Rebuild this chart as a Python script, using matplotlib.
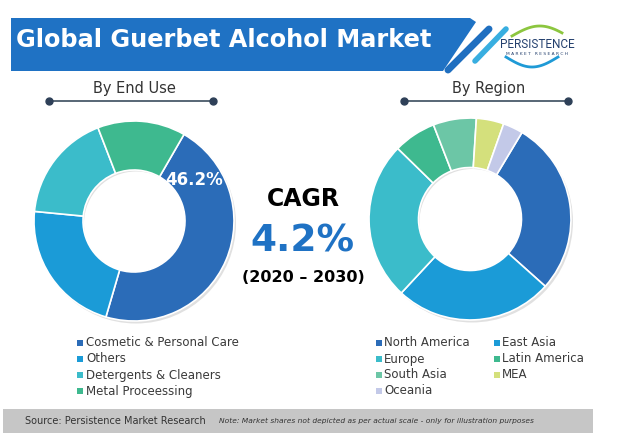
import numpy as np
import matplotlib
matplotlib.use('Agg')
import matplotlib.pyplot as plt
from matplotlib.patches import Polygon, Rectangle, Circle

# data
end_use_labels = ['Cosmetic & Personal Care', 'Others', 'Detergents & Cleaners', 'Metal Proceessing']
end_use_share = [46.2, 22.0, 17.6, 14.2]
end_use_colors = ['#2b6cb8', '#1b9bd7', '#3bbcca', '#3eb98f']

region_labels = ['North America', 'East Asia', 'Europe', 'Latin America', 'South Asia', 'MEA', 'Oceania']
region_share = [28.0, 25.3, 25.4, 6.8, 6.9, 4.4, 3.2]
region_colors = ['#2b6cb8', '#1b9bd7', '#3bbcca', '#3eb98f', '#6cc6a6', '#d4e07c', '#c3c9e8']

W, H = 620, 437
fig = plt.figure(figsize=(W / 100, H / 100), dpi=100)
fig.patch.set_facecolor('white')

# background axes in pixel coords (y down)
bg = fig.add_axes([0, 0, 1, 1])
bg.set_xlim(0, W)
bg.set_ylim(H, 0)
bg.axis('off')

# title banner
blue = '#1f72c4'
bg.add_patch(Polygon([(11, 18), (470, 18), (476, 22), (443, 71), (11, 71)],
                     closed=True, facecolor=blue, edgecolor='none'))
bg.plot([448, 489], [70, 29], color='#1f6fc0', lw=5, solid_capstyle='round')
bg.plot([475, 506], [61, 29], color='#38aee0', lw=4, solid_capstyle='round')
bg.text(16, 40, 'Global Guerbet Alcohol Market', color='white', fontsize=17.3,
        fontweight='bold', va='center', ha='left')

# logo
t = np.linspace(0, 1, 50)
bg.plot(512 + 50 * t, 36 - 10 * np.sin(np.pi * t * 0.9), color='#8cc63f', lw=2)
bg.plot(506 + 52 * t, 57 + 10 * np.sin(np.pi * t), color='#1f9ad6', lw=2)
bg.text(537, 45, 'PERSISTENCE', fontsize=8.5, family='Roboto', color='#24406e',
        ha='center', va='center')
bg.text(537, 54, 'M A R K E T   R E S E A R C H', fontsize=3.2, color='#24406e',
        ha='center', va='center')

# section headers
for cx, title in [(134, 'By End Use'), (489, 'By Region')]:
    bg.text(cx, 88, title, fontsize=10.5, color='#333333', ha='center', va='center')
    bg.plot([cx - 85, cx + 79], [101, 101], color='#4a5a6a', lw=1.3)
    bg.plot([cx - 85, cx + 79], [101, 101], 'o', color='#2e4058', ms=5)

# CAGR block
bg.text(303, 199, 'CAGR', fontsize=17, fontweight='bold', color='black', ha='center', va='center')
bg.text(302, 241, '4.2%', fontsize=27, fontweight='bold', color=blue, ha='center', va='center')
bg.text(303, 278, '(2020 \u2013 2030)', fontsize=11.5, fontweight='bold', color='black',
        ha='center', va='center')


def donut(cx, cy, r, values, colors, start):
    ax = fig.add_axes([(cx - r) / W, (H - cy - r) / H, 2 * r / W, 2 * r / H])
    # soft shadow
    ax.add_patch(Circle((0.02, -0.025), 1.0, facecolor='#e0e0e0', edgecolor='none', zorder=0))
    ax.add_patch(Circle((0.02, -0.025), 0.52, facecolor='white', edgecolor='none', zorder=0))
    ax.pie(values, colors=colors, startangle=start, counterclock=False, radius=1,
           wedgeprops=dict(width=0.49, edgecolor='white', linewidth=1.2))
    ax.set_xlim(-1.04, 1.04)
    ax.set_ylim(-1.04, 1.04)
    ax.set_aspect('equal')
    ax.axis('off')
    return ax


ax1 = donut(134, 221, 104, end_use_share, end_use_colors, 60)
ax1.text(0.6, 0.41, f'{end_use_share[0]}%', color='white', fontsize=12,
         fontweight='bold', ha='center', va='center')
ax2 = donut(470, 219, 105, region_share, region_colors, 59)

# legends
rows_y = [343, 359, 375, 391]
for i, (lab, col) in enumerate(zip(end_use_labels, end_use_colors)):
    bg.add_patch(Rectangle((77, rows_y[i] - 3), 6, 6, facecolor=col, edgecolor='none'))
    bg.text(86, rows_y[i], lab, fontsize=8.5, color='#3a3a3a', va='center', ha='left')

col_x = [379, 497]
for i, (lab, col) in enumerate(zip(region_labels, region_colors)):
    x = col_x[i % 2]
    y = rows_y[i // 2]
    bg.add_patch(Rectangle((x - 3, y - 3), 6, 6, facecolor=col, edgecolor='none'))
    bg.text(x + 5, y, lab, fontsize=8.5, color='#3a3a3a', va='center', ha='left')

# footer
bg.add_patch(Rectangle((3, 409), 590, 24, facecolor='#c6c6c6', edgecolor='none'))
bg.text(25, 421, 'Source: Persistence Market Research', fontsize=7, color='#333333',
        va='center', ha='left')
bg.text(219, 421, 'Note: Market shares not depicted as per actual scale - only for illustration purposes',
        fontsize=5.4, style='italic', color='#333333', va='center', ha='left')

fig.savefig('out.png', dpi=100, facecolor='white')
